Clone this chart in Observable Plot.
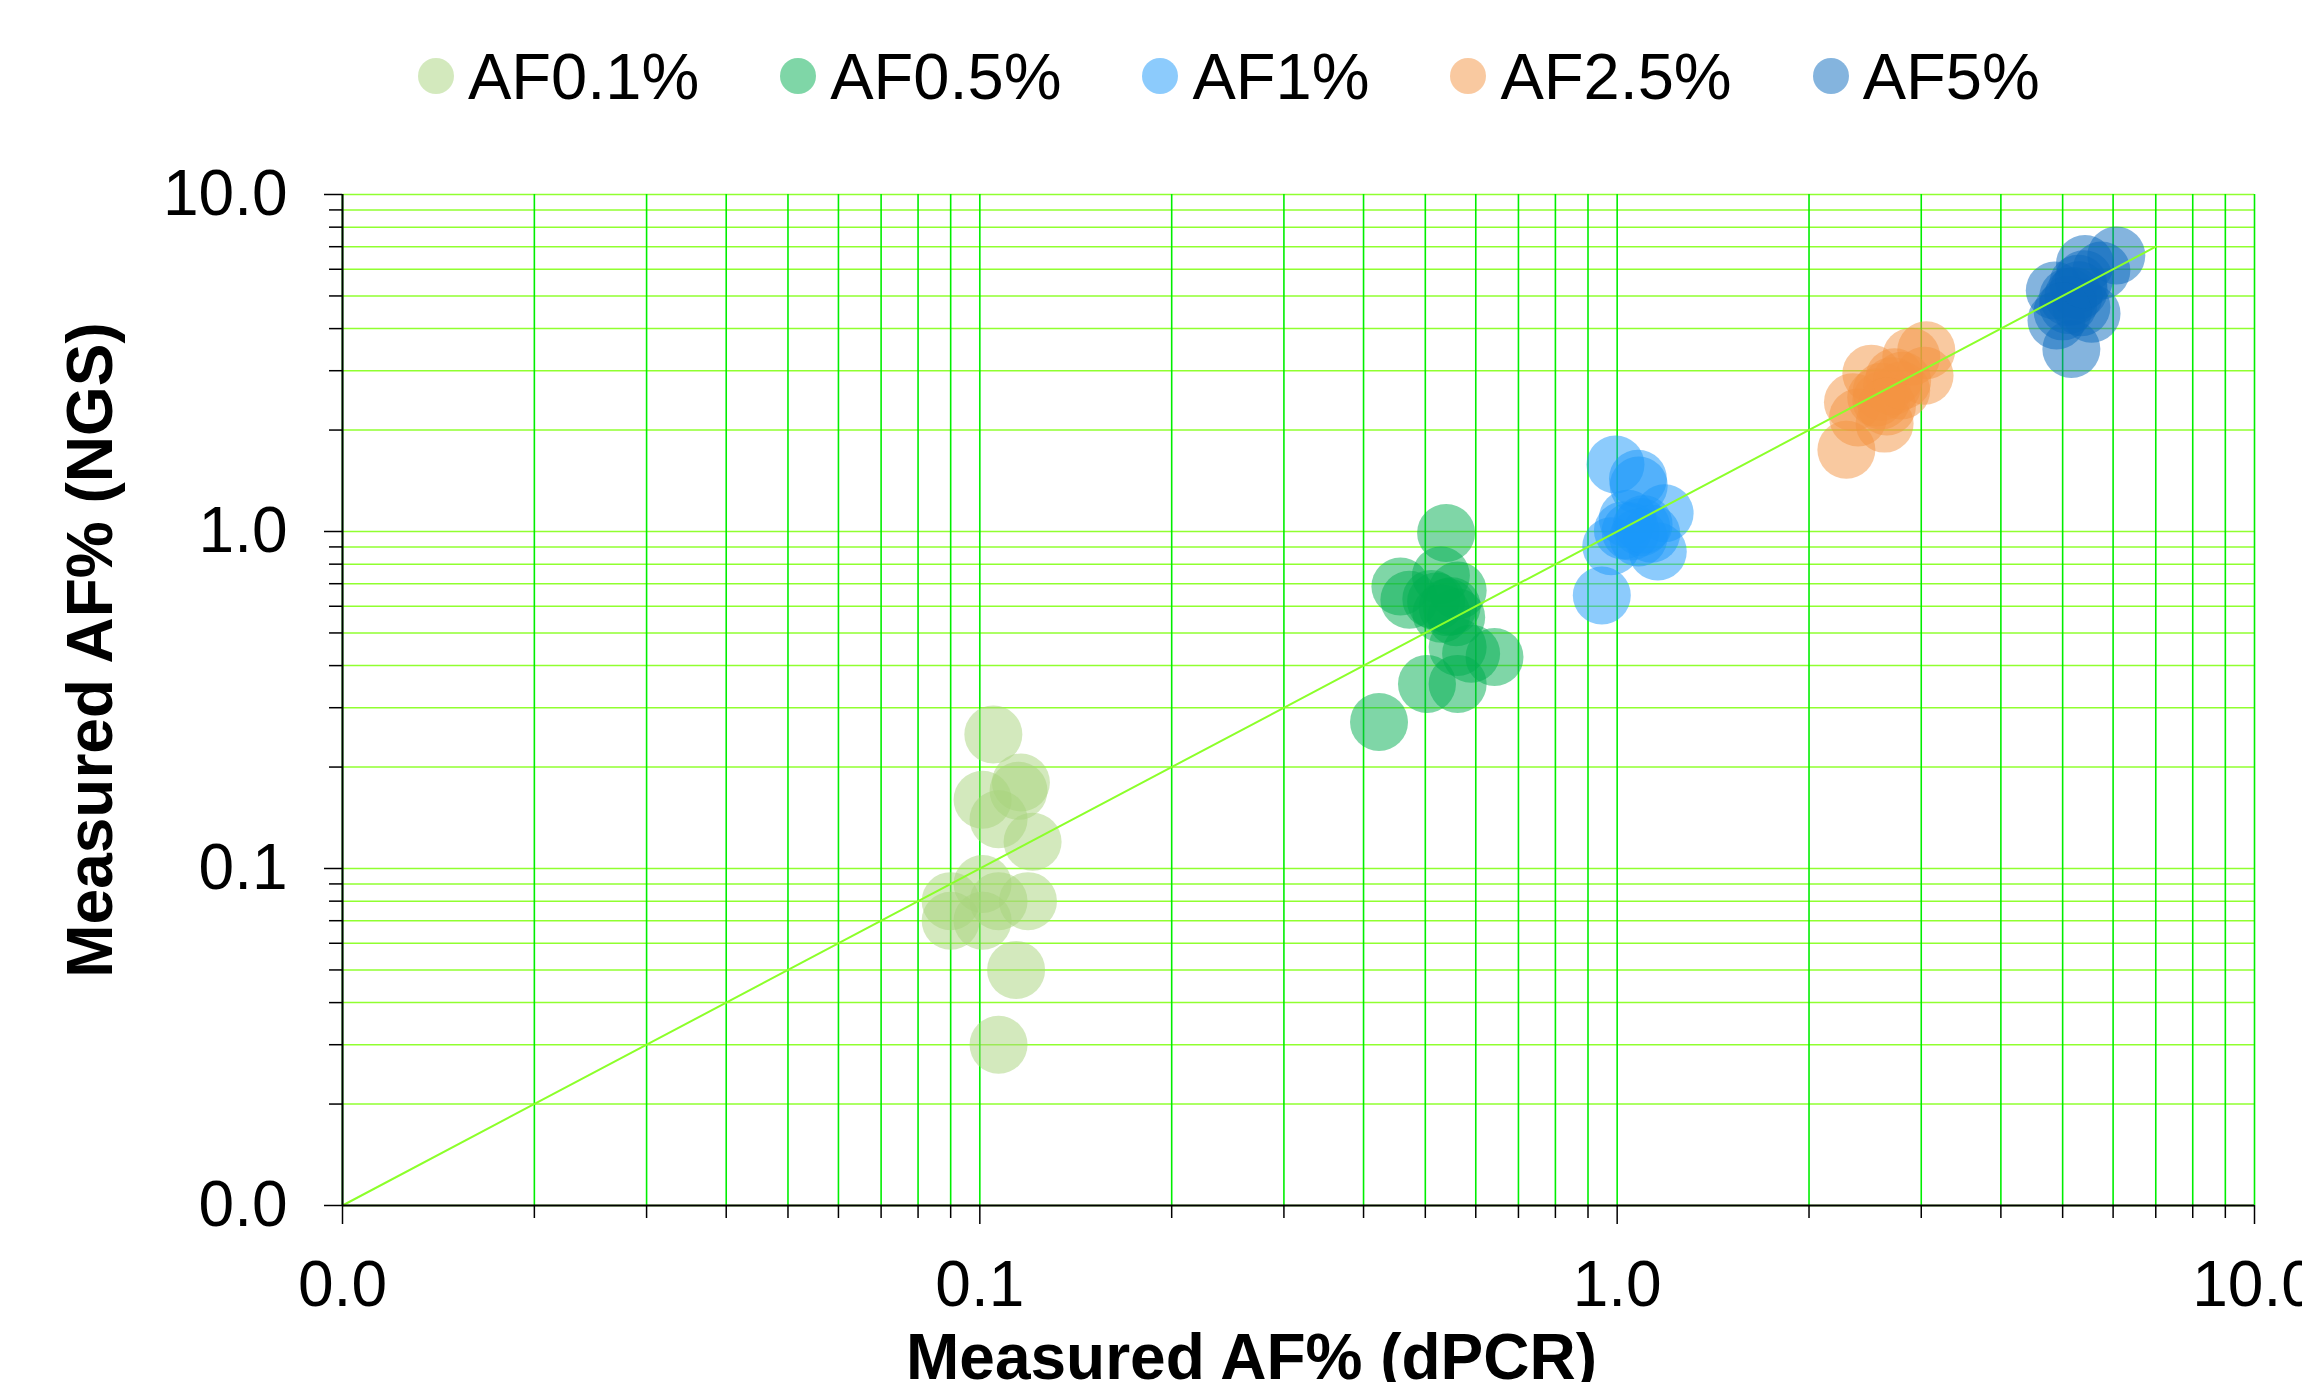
<!DOCTYPE html>
<html>
<head>
<meta charset="utf-8">
<script src="https://cdn.jsdelivr.net/npm/d3@7"></script>
<script src="https://cdn.jsdelivr.net/npm/@observablehq/plot@0.6"></script>
<style>
  html, body { margin: 0; padding: 0; background: #fff; overflow: hidden; }
  body { width: 2302px; height: 1382px; font-family: "Liberation Sans", Arial, sans-serif; }
  #legend { height: 152px; display: flex; align-items: center; padding-left: 418px; box-sizing: border-box; }
  .item { display: flex; align-items: center; margin-right: 81px; font-size: 65px; color: #000; }
  .sw { width: 36px; height: 36px; border-radius: 50%; margin-right: 14px; }
</style>
</head>
<body>
<div id="legend"></div>
<div id="chart"></div>
<script>
// Series names and colours
const groups = ["AF0.1%", "AF0.5%", "AF1%", "AF2.5%", "AF5%"];
const colors = ["#A8D47C", "#00AE4F", "#1A98FA", "#F39341", "#0A6ABE"];

// Measured AF% (dPCR) / (NGS) per series
const af01_dpcr = [0.105, 0.116, 0.115, 0.101, 0.107, 0.121, 0.101, 0.090, 0.107, 0.119, 0.090, 0.101, 0.114, 0.107];
const af01_ngs  = [0.25, 0.18, 0.17, 0.16, 0.14, 0.12, 0.09, 0.08, 0.08, 0.08, 0.07, 0.07, 0.05, 0.03];

const af05_dpcr = [0.539, 0.529, 0.457, 0.472, 0.511, 0.562, 0.542, 0.559, 0.562, 0.590, 0.642, 0.503, 0.562, 0.423, 0.52, 0.55, 0.53];
const af05_ngs  = [0.99, 0.74, 0.687, 0.627, 0.631, 0.668, 0.596, 0.557, 0.454, 0.434, 0.424, 0.353, 0.353, 0.272, 0.62, 0.60, 0.57];

const af1_dpcr = [0.994, 1.078, 1.081, 1.187, 1.039, 1.091, 1.131, 0.979, 1.158, 1.021, 0.946, 1.05, 1.08, 1.10];
const af1_ngs  = [1.58, 1.434, 1.369, 1.133, 1.091, 1.030, 0.985, 0.904, 0.872, 1.007, 0.646, 1.00, 0.96, 1.05];

const af25_dpcr = [3.055, 2.894, 3.036, 2.505, 2.724, 2.344, 2.597, 2.388, 2.628, 2.289, 2.79, 2.60, 2.70, 2.55, 2.80, 2.65];
const af25_ngs  = [3.45, 3.30, 2.90, 2.94, 2.87, 2.42, 2.45, 2.18, 2.09, 1.748, 2.62, 2.60, 2.70, 2.50, 2.80, 2.35];

const af5_dpcr = [6.07, 5.42, 5.75, 4.86, 5.29, 5.35, 4.89, 5.16, 5.55, 5.10, 5.20, 5.30, 5.10, 5.40, 5.00];
const af5_ngs  = [6.59, 6.22, 5.95, 5.19, 5.43, 4.63, 4.23, 3.48, 4.43, 4.96, 5.00, 5.20, 4.70, 5.60, 4.50];

// Identity reference line
const diagX = [0.01, 7];

// Axis ticks
const majorTicks = [0.01, 0.1, 1, 10];
const minorTicks = [0.02,0.03,0.04,0.05,0.06,0.07,0.08,0.09, 0.2,0.3,0.4,0.5,0.6,0.7,0.8,0.9, 2,3,4,5,6,7,8,9];
const gridTicks = majorTicks.concat(minorTicks);

const seriesX = [af01_dpcr, af05_dpcr, af1_dpcr, af25_dpcr, af5_dpcr];
const seriesY = [af01_ngs, af05_ngs, af1_ngs, af25_ngs, af5_ngs];
const data = [];
groups.forEach((g, i) => seriesX[i].forEach((x, j) => data.push({group: g, dpcr: x, ngs: seriesY[i][j]})));
const diag = diagX.map(v => ({x: v, y: v}));

// Legend
const legend = d3.select("#legend");
groups.forEach((g, i) => {
  const it = legend.append("div").attr("class", "item");
  it.append("div").attr("class", "sw").style("background", colors[i]).style("opacity", 0.5);
  it.append("span").text(g);
});

const fmt = d3.format(".1f");
const font = "Liberation Sans, Arial, sans-serif";

const plot = Plot.plot({
  width: 2302,
  height: 1230,
  marginTop: 42,
  marginBottom: 177,
  marginLeft: 342,
  marginRight: 48,
  style: {fontFamily: font, background: "#fff", overflow: "visible"},
  x: {type: "log", domain: [0.01, 10], label: null},
  y: {type: "log", domain: [0.01, 10], label: null},
  color: {domain: groups, range: colors},
  marks: [
    Plot.gridY({ticks: gridTicks, stroke: "#90ff30", strokeOpacity: 1, strokeWidth: 1.5}),
    Plot.gridX({ticks: gridTicks, stroke: "#00ee00", strokeOpacity: 1, strokeWidth: 1.6}),
    Plot.dot(data, {x: "dpcr", y: "ngs", fill: "group", r: 29, fillOpacity: 0.5, stroke: "none"}),
    Plot.line(diag, {x: "x", y: "y", stroke: "#8cff2a", strokeWidth: 2}),
    Plot.axisX({ticks: minorTicks, tickSize: 13, tickFormat: () => "", stroke: "#000", strokeWidth: 1.5, label: null}),
    Plot.axisY({ticks: minorTicks, tickSize: 13, tickFormat: () => "", stroke: "#000", strokeWidth: 1.5, label: null}),
    Plot.axisX({ticks: majorTicks, tickSize: 19, tickPadding: 36, tickFormat: fmt, fontSize: 64, fill: "#000", stroke: "#000", strokeWidth: 1.5, label: null}),
    Plot.axisY({ticks: majorTicks, tickSize: 18, tickPadding: 37, tickFormat: fmt, fontSize: 64, fill: "#000", stroke: "#000", strokeWidth: 1.5, label: null}),
    Plot.ruleX([0.01], {stroke: "#000", strokeWidth: 2}),
    Plot.ruleY([0.01], {stroke: "#000", strokeWidth: 2}),
    Plot.text(["Measured AF% (dPCR)"], {text: d => d, frameAnchor: "bottom", textAnchor: "middle", dx: -47, dy: 153, lineAnchor: "middle", fontSize: 64, fontWeight: "bold", fill: "#000"}),
    Plot.text(["Measured AF% (NGS)"], {text: d => d, frameAnchor: "left", textAnchor: "middle", rotate: -90, dx: -251, dy: -50, lineAnchor: "middle", fontSize: 64, fontWeight: "bold", fill: "#000"})
  ]
});
document.getElementById("chart").appendChild(plot);
</script>
</body>
</html>
